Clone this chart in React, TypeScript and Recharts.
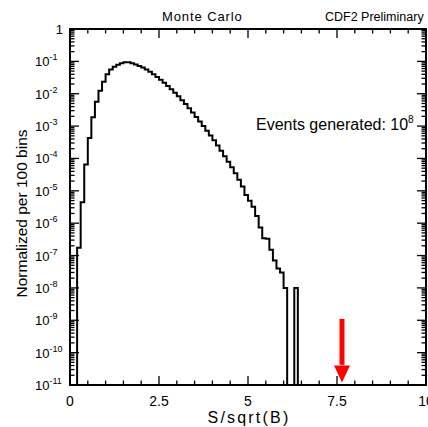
import React from 'react';
import {
  ComposedChart,
  Line,
  XAxis,
  YAxis,
  ReferenceArea,
  ReferenceLine,
  ReferenceDot,
} from 'recharts';

// Normalized content per 0.1-wide bin of S/sqrt(B), bins from 0.0 to 10.0
const binValues: number[] = [
  0, 0, 1.74e-7, 4.47e-6, 6.46e-5, 4.27e-4, 1.86e-3, 5.62e-3, 1.23e-2, 2.34e-2,
  3.98e-2, 5.62e-2, 6.76e-2, 7.85e-2, 8.71e-2, 9.33e-2, 9.33e-2, 8.71e-2, 7.94e-2, 7.24e-2,
  6.46e-2, 5.62e-2, 4.79e-2, 3.98e-2, 3.31e-2, 2.69e-2, 2.19e-2, 1.74e-2, 1.38e-2, 1.07e-2,
  8.32e-3, 6.31e-3, 4.79e-3, 3.55e-3, 2.63e-3, 1.91e-3, 1.38e-3, 1.0e-3, 7.24e-4, 5.13e-4,
  3.63e-4, 2.51e-4, 1.74e-4, 1.17e-4, 7.94e-5, 5.37e-5, 3.47e-5, 2.19e-5, 1.35e-5, 7.41e-6,
  4.9e-6, 3.24e-6, 1.66e-6, 7.4e-7, 3.4e-7, 3.3e-7, 1.5e-7, 7e-8, 4e-8, 3e-8,
  1e-8, 0, 0, 1e-8, 0, 0, 0, 0, 0, 0,
  0, 0, 0, 0, 0, 0, 0, 0, 0, 0,
  0, 0, 0, 0, 0, 0, 0, 0, 0, 0,
  0, 0, 0, 0, 0, 0, 0, 0, 0, 0,
];
const BIN_WIDTH = 0.1;
const X_MIN = 0;
const X_MAX = 10;
const Y_MIN = 1e-11;
const Y_MAX = 1;

const xMajorTicks = [0, 2.5, 5, 7.5, 10];
const xTickStep = 0.5;
const yDecades = [-11, -10, -9, -8, -7, -6, -5, -4, -3, -2, -1, 0];

// Arrow marking the observed value
const arrowX = 7.64;
const arrowTop = 1.1e-9;
const arrowHeadBase = 4.2e-11;
const arrowTip = 1.2e-11;

// ---- derived tables ----
const histData = binValues.map((v, i) => ({
  x: Math.round(i * BIN_WIDTH * 1000) / 1000,
  y: v > 0 ? v : Y_MIN,
}));
histData.push({ x: X_MAX, y: histData[histData.length - 1].y });

const xTicks: number[] = [];
for (let i = 0; i <= Math.round((X_MAX - X_MIN) / xTickStep); i++) xTicks.push(X_MIN + i * xTickStep);

const yTicks: number[] = [];
yDecades.forEach((e) => {
  for (let k = 1; k <= 9; k++) {
    if (e === 0 && k > 1) break;
    yTicks.push(k * Math.pow(10, e));
  }
});

const W = 428;
const H = 427;
const M = { top: 29, right: 2, bottom: 12, left: 0 };
const Y_AXIS_W = 70;
const X_AXIS_H = 30;
const PLOT_W = W - M.left - M.right - Y_AXIS_W;
const PLOT_H = H - M.top - M.bottom - X_AXIS_H;
const FONT = '"Liberation Sans", Arial, Helvetica, sans-serif';

const YTick = (props: any) => {
  const { x, y, payload } = props;
  const v = payload.value as number;
  const lg = Math.log10(v);
  const e = Math.round(lg);
  const major = Math.abs(lg - e) < 1e-6;
  const len = major ? 9 : 4.5;
  return (
    <g>
      <line x1={x} x2={x + len} y1={y} y2={y} stroke="#000" strokeWidth={1.3} />
      <line x1={x + PLOT_W} x2={x + PLOT_W - len} y1={y} y2={y} stroke="#000" strokeWidth={1.3} />
      {major &&
        (e === 0 ? (
          <text x={x - 7} y={y + 5} textAnchor="end" fontSize={13} fontFamily={FONT} fill="#000">
            1
          </text>
        ) : (
          <text x={x - 35} y={y + 5} textAnchor="start" fontSize={13} fontFamily={FONT} fill="#000">
            10
            <tspan dy={-6} fontSize={9}>
              {'-' + String(-e)}
            </tspan>
          </text>
        ))}
    </g>
  );
};

const XTick = (props: any) => {
  const { x, y, payload } = props;
  const v = payload.value as number;
  const major = xMajorTicks.some((t) => Math.abs(t - v) < 1e-6);
  const len = major ? 9 : 4.5;
  return (
    <g>
      <line x1={x} x2={x} y1={y} y2={y - len} stroke="#000" strokeWidth={1.3} />
      <line x1={x} x2={x} y1={y - PLOT_H} y2={y - PLOT_H + len} stroke="#000" strokeWidth={1.3} />
      {major && (
        <text x={x} y={y + 21} textAnchor="middle" fontSize={14} fontFamily={FONT} fill="#000">
          {String(v)}
        </text>
      )}
    </g>
  );
};

const ArrowHead = (props: any) => {
  const { cx, cy } = props;
  return (
    <polygon
      points={`${cx - 8},${cy - 17} ${cx + 8},${cy - 17} ${cx},${cy}`}
      fill="#ff0000"
      stroke="none"
    />
  );
};

export default function App() {
  return (
    <div style={{ position: 'absolute', left: 0, top: 0, width: W, height: H, background: '#fff' }}>
      <ComposedChart width={W} height={H} data={histData} margin={M}>
        <XAxis
          dataKey="x"
          type="number"
          domain={[X_MIN, X_MAX]}
          ticks={xTicks}
          interval={0}
          tickSize={0}
          tickMargin={0}
          axisLine={false}
          height={X_AXIS_H}
          tick={(p: any) => <XTick {...p} />}
          allowDataOverflow
        />
        <YAxis
          type="number"
          scale="log"
          domain={[Y_MIN, Y_MAX]}
          ticks={yTicks}
          interval={0}
          tickSize={0}
          tickMargin={0}
          axisLine={false}
          width={Y_AXIS_W}
          tick={(p: any) => <YTick {...p} />}
          allowDataOverflow
        />
        <ReferenceArea
          x1={X_MIN}
          x2={X_MAX}
          y1={Y_MIN}
          y2={Y_MAX}
          fill="none"
          fillOpacity={0}
          stroke="#000"
          strokeWidth={2}
          ifOverflow="visible"
        />
        <Line
          type="stepAfter"
          dataKey="y"
          stroke="#000"
          strokeWidth={2}
          dot={false}
          activeDot={false}
          isAnimationActive={false}
        />
        <ReferenceLine
          segment={[
            { x: arrowX, y: arrowTop },
            { x: arrowX, y: arrowHeadBase },
          ]}
          stroke="#ff0000"
          strokeWidth={5}
          ifOverflow="visible"
        />
        <ReferenceDot x={arrowX} y={arrowTip} r={0} shape={(p: any) => <ArrowHead {...p} />} ifOverflow="visible" />
      </ComposedChart>
      <svg
        width={W}
        height={H}
        style={{ position: 'absolute', left: 0, top: 0, pointerEvents: 'none' }}
        fontFamily={FONT}
      >
        <text x={162} y={21} fontSize={13} letterSpacing={0.9} fill="#000">
          Monte Carlo
        </text>
        <text x={325} y={21} fontSize={12.5} fill="#000">
          CDF2 Preliminary
        </text>
        <text x={256} y={130} fontSize={16} fill="#000">
          Events generated: 10
          <tspan dy={-7} fontSize={10}>
            8
          </tspan>
        </text>
        <text
          transform="translate(27,213.5) rotate(-90)"
          x={0}
          y={0}
          textAnchor="middle"
          fontSize={15.5}
          fill="#000"
        >
          Normalized per 100 bins
        </text>
        <text x={249} y={423} textAnchor="middle" fontSize={16} letterSpacing={2.2} fill="#000">
          S/sqrt(B)
        </text>
      </svg>
    </div>
  );
}
